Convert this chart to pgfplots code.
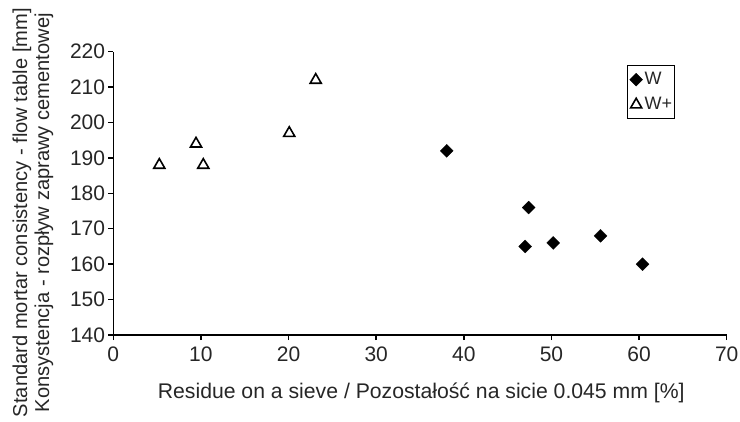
\documentclass[border=0pt]{standalone}
\usepackage{fontspec}
\setmainfont{Liberation Sans}
\usepackage{pgfplots}
\pgfplotsset{compat=1.18}
\begin{document}
\begin{tikzpicture}
\useasboundingbox (-113.3pt,-86pt) rectangle (626.7pt,335pt);
\begin{axis}[
  scale only axis, width=613.4pt, height=283.3pt,
  xmin=0, xmax=70, ymin=140, ymax=220,
  xtick={0,10,...,70}, ytick={140,150,...,220},
  axis lines=left, axis line style={-, line width=1.4pt},
  tick style={line width=1.4pt, black},
  tick align=outside, major tick length=5pt,
  /pgf/number format/assume math mode=true,
  ticklabel style={font=\fontsize{21}{25}\selectfont, text=black!85, inner sep=0pt},
  xticklabel style={anchor=north, yshift=-7pt},
  yticklabel style={anchor=east, xshift=-3pt},
  xlabel={Residue on a sieve / Pozostałość na sicie 0.045 mm [\%]},
  xlabel style={font=\fontsize{21.2}{25}\selectfont, text=black!85, at={(axis description cs:0.502,0)}, anchor=base, yshift=-63pt, inner sep=0pt},
  ylabel={Standard mortar consistency - flow table [mm]\\Konsystencja - rozpływ zaprawy cementowej},
  ylabel style={font=\fontsize{20.1}{22}\selectfont, text=black!85, align=center, at={(axis description cs:-0.131,0.432)}, anchor=center, rotate=0, inner sep=0pt},
  legend style={at={(axis description cs:0.8375,0.953)}, anchor=north west, draw=black, line width=1.3pt, font=\fontsize{18}{22}\selectfont, text=black!85, inner xsep=2pt, inner ysep=4pt, row sep=5pt, cells={anchor=west}, nodes={inner xsep=0.5pt, inner ysep=1.5pt, text height=13pt, text depth=4pt}, /tikz/every odd column/.append style={column sep=1.5pt}},
  legend image code/.code={\draw[#1] plot coordinates {(6pt,0pt)};},
  clip=false,
]
\addplot[only marks, mark=square*, mark size=4.6pt, mark options={rotate=45, fill=black, draw=black, line width=0.2pt}]
  coordinates {(38.05,192) (47.4,176) (47.0,165) (50.2,166) (55.6,168) (60.4,160)};
\addlegendentry{W}
\addplot[only marks, mark=triangle, mark size=6.4pt, mark options={draw=black, fill=white, line width=1.6pt}]
  coordinates {(5.25,188) (9.44,194) (10.27,188) (20.08,197) (23.1,212)};
\addlegendentry{W+}
\end{axis}
\end{tikzpicture}
\end{document}
